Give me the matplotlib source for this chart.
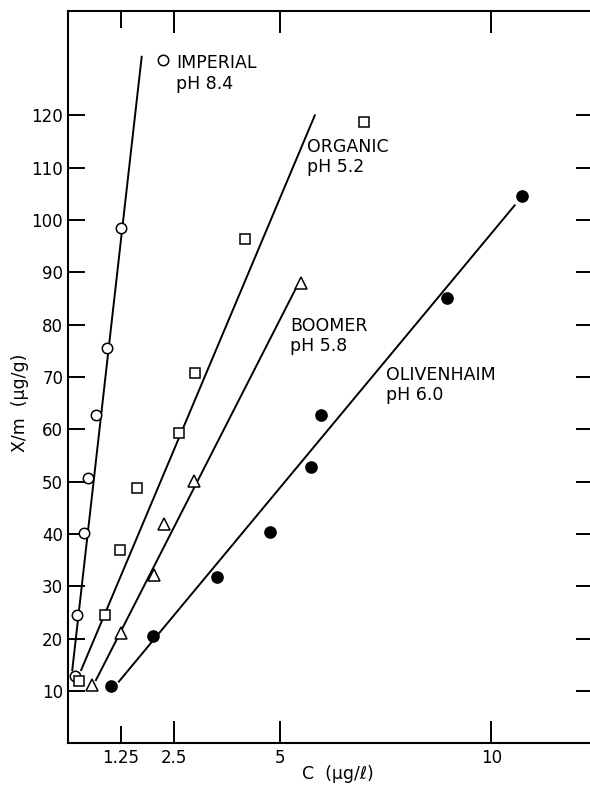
import matplotlib.pyplot as plt
from matplotlib.ticker import FixedLocator, NullFormatter

# Freundlich-style adsorption, X/m vs equilibrium concentration C
imperial_c = [0.165, 0.21, 0.385, 0.48, 0.66, 0.92, 1.25, 2.25]
imperial_xm = [12.9, 24.6, 40.2, 50.7, 62.8, 75.6, 98.4, 130.5]
imperial_fit_c = [0.1, 1.74]
imperial_fit_xm = [14.0, 131.2]

organic_c = [0.25, 0.87, 1.23, 1.63, 2.63, 3.0, 4.18, 6.99]
organic_xm = [11.9, 24.6, 36.9, 48.8, 59.4, 70.7, 96.4, 118.7]
organic_fit_c = [0.31, 5.83]
organic_fit_xm = [14.0, 120.0]

boomer_c = [0.56, 1.25, 2.04, 2.27, 2.98, 5.5]
boomer_xm = [11.1, 21.0, 32.2, 42.0, 50.1, 88.0]
boomer_fit_c = [0.66, 5.38]
boomer_fit_xm = [12.1, 86.9]

oliv_c = [1.01, 2.01, 3.53, 4.77, 5.75, 5.98, 8.96, 10.72]
oliv_xm = [11.0, 20.6, 31.7, 40.3, 52.8, 62.8, 85.1, 104.6]
oliv_fit_c = [1.2, 10.55]
oliv_fit_xm = [11.8, 102.8]

x_ticks = [1.25, 2.5, 5, 10]
x_tick_labels = ["1.25", "2.5", "5", "10"]
y_ticks = list(range(10, 130, 10))

plt.rcParams['font.family'] = ['DejaVu Sans']

fig = plt.figure(figsize=(5.9, 7.86), dpi=100)
ax = fig.add_axes([0.1153, 0.0542, 0.8897, 0.9322])

lw = 1.4
ms = 7.5
mew = 1.1

ax.plot(imperial_fit_c, imperial_fit_xm, color='black', lw=lw)
ax.plot(imperial_c, imperial_xm, 'o', ms=ms, mfc='white', mec='black', mew=mew)

ax.plot(organic_fit_c, organic_fit_xm, color='black', lw=lw)
ax.plot(organic_c, organic_xm, 's', ms=ms - 0.5, mfc='white', mec='black', mew=mew)

ax.plot(boomer_fit_c, boomer_fit_xm, color='black', lw=lw)
ax.plot(boomer_c, boomer_xm, '^', ms=ms + 0.5, mfc='white', mec='black', mew=mew)

ax.plot(oliv_fit_c, oliv_fit_xm, color='black', lw=lw)
ax.plot(oliv_c, oliv_xm, 'o', ms=ms + 0.5, mfc='black', mec='black', mew=mew)

fs = 12.5
ax.text(2.55, 128.0, "IMPERIAL\npH 8.4", fontsize=fs, ha='left', va='center', linespacing=1.15)
ax.text(5.64, 112.0, "ORGANIC\npH 5.2", fontsize=fs, ha='left', va='center', linespacing=1.15)
ax.text(5.24, 77.9, "BOOMER\npH 5.8", fontsize=fs, ha='left', va='center', linespacing=1.15)
ax.text(7.52, 68.4, "OLIVENHAIM\npH 6.0", fontsize=fs, ha='left', va='center', linespacing=1.15)

ax.set_xlim(0, 12.4)
ax.set_ylim(0, 140)

# 1.25 gets a shorter tick than the others
ax.xaxis.set_major_locator(FixedLocator(x_ticks[1:]))
ax.set_xticklabels(x_tick_labels[1:])
ax.xaxis.set_minor_locator(FixedLocator(x_ticks[:1]))
ax.set_xticklabels(x_tick_labels[:1], minor=True)
ax.set_yticks(y_ticks)
ax.yaxis.set_minor_formatter(NullFormatter())

ax.tick_params(axis='x', which='major', direction='in', length=16, width=1.4,
               top=True, bottom=True, labelsize=12, pad=4)
ax.tick_params(axis='x', which='minor', direction='in', length=12.5, width=1.4,
               top=True, bottom=True, labelsize=12, pad=4)
ax.tick_params(axis='y', direction='in', length=12, width=1.4,
               left=True, right=True, labelsize=12, pad=3.5)

for sp in ax.spines.values():
    sp.set_linewidth(1.5)

ax.set_xlabel("C  (\u03bcg/\u2113)", fontsize=12.5, labelpad=-1)
ax.xaxis.set_label_coords(0.515, -0.029)
ax.set_ylabel("X/m  (\u03bcg/g)", fontsize=12.5)
ax.yaxis.set_label_coords(-0.074, 0.465)

fig.savefig("out.png", dpi=100)
